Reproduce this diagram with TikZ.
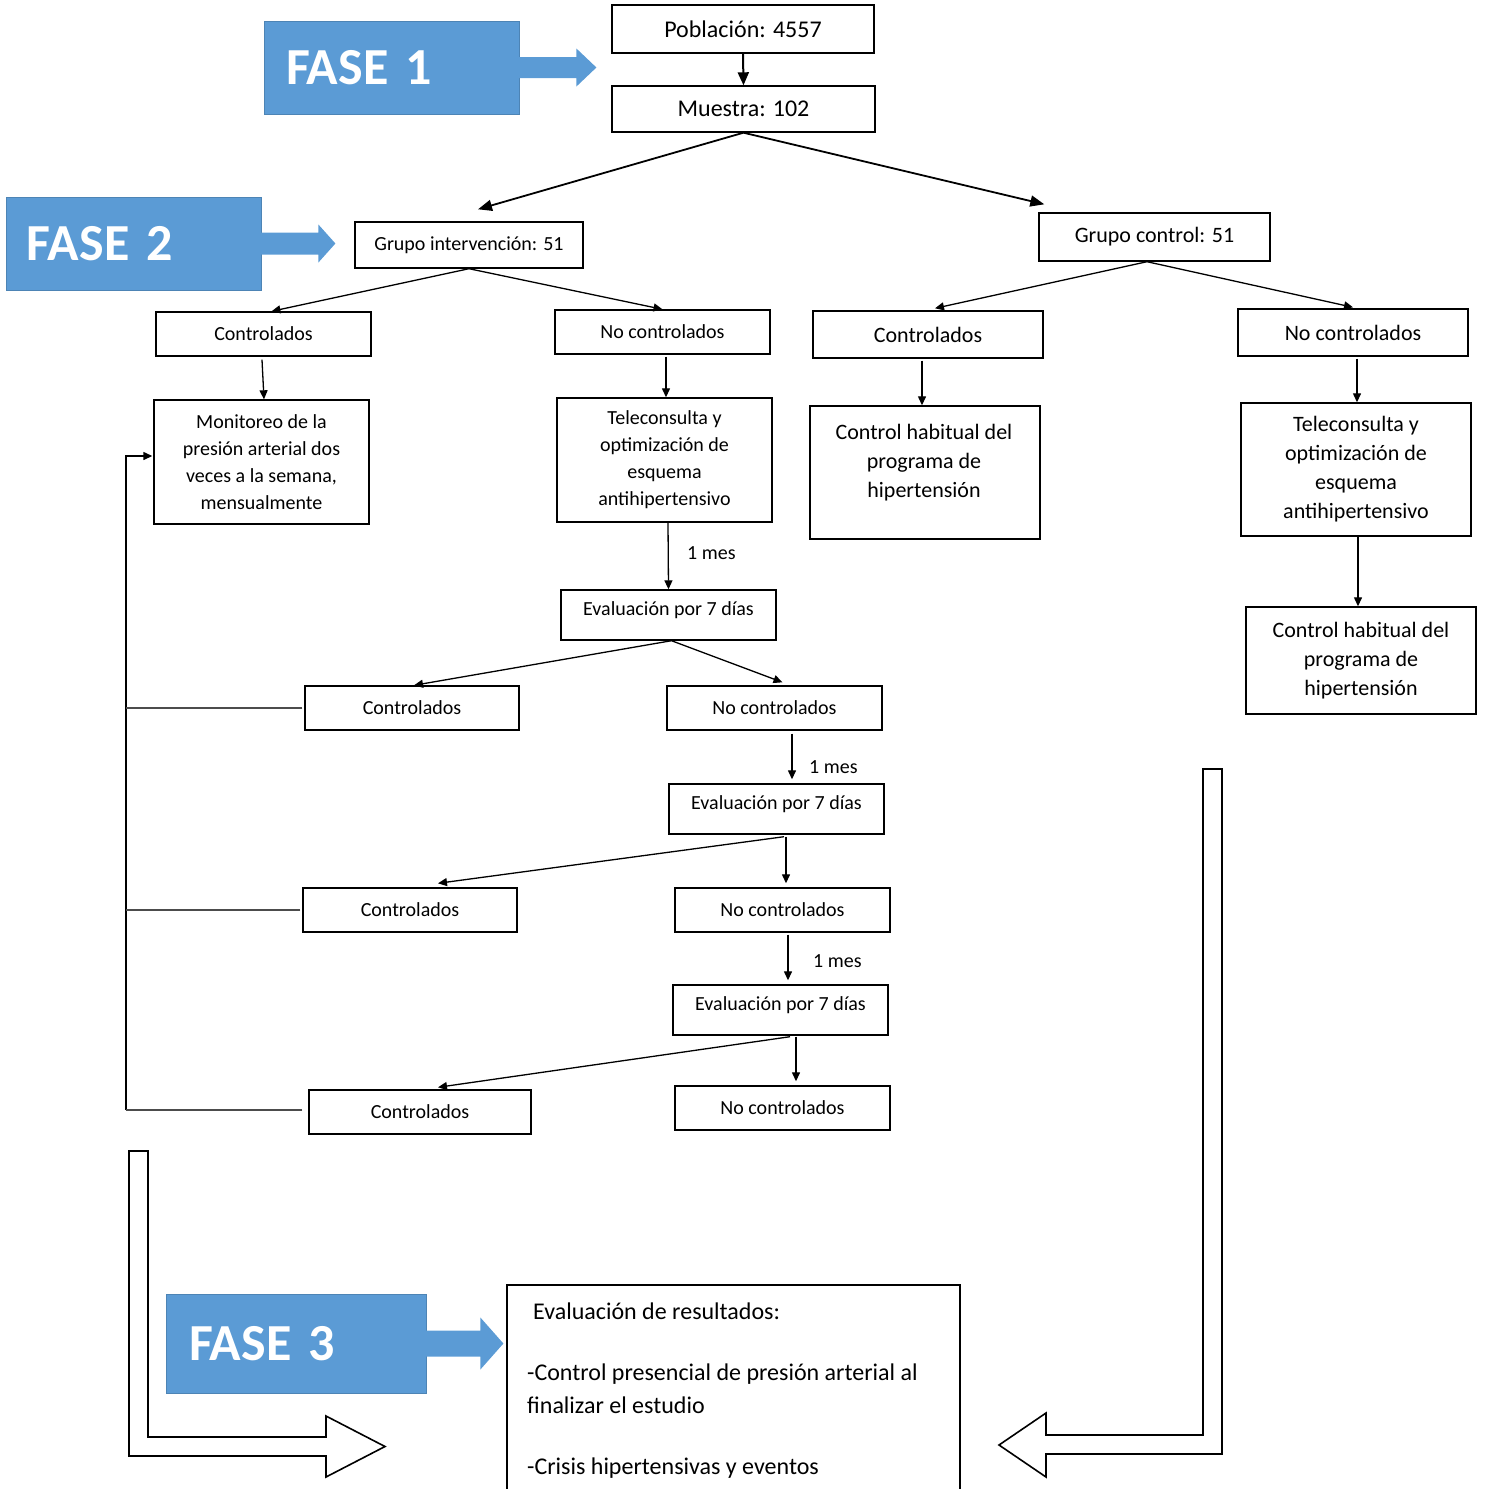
\documentclass[tikz,border=0pt]{standalone}
\usepackage{fontspec}
\setmainfont{Carlito}
\usetikzlibrary{arrows.meta,calc}
\definecolor{fasecol}{HTML}{5B9BD5}
\newcommand\fsBig{\fontsize{24pt}{29pt}\selectfont}
\newcommand\fsRight{\fontsize{22pt}{29pt}\selectfont}
\newcommand\fsLeft{\fontsize{20pt}{27pt}\selectfont}
\newcommand\fsFase{\bfseries\fontsize{52pt}{60pt}\selectfont}
\newcommand\fsRes{\fontsize{24pt}{33pt}\selectfont}
\newcommand\upText[1]{\raisebox{5pt}[\height][\depth]{#1}}
\begin{document}
\begin{tikzpicture}[x=1pt,y=-1pt,
 box/.style={draw, line width=1.4pt, inner sep=0pt, align=center},
 arr/.style={line width=1.3pt, -{Triangle[length=9pt,width=8pt]}},
 arrbig/.style={line width=1.8pt, -{Triangle[length=14pt,width=11pt]}},
 fbline/.style={line width=2.2pt, draw=black!70},
 fase/.style={fill=fasecol, draw=fasecol!85!black, line width=0.8pt, text=white, font=\fsFase, inner ysep=0pt, align=left},
 hollow/.style={draw, line width=1.6pt, fill=white, line join=miter},
 lbl/.style={font=\fsLeft, anchor=west, inner sep=0pt}]
\useasboundingbox (0,0) rectangle (1486,1489);

% ---------- FASE labels ----------
\node[fase, minimum width=255pt, minimum height=93pt, text width=211pt, inner xsep=22pt] (f1) at (391.5,67.5) {FASE 1};
\fill[fasecol] ($(f1.east)+(-1,-10.5)$) -- ($(f1.east)+(57,-10.5)$) -- ($(f1.east)+(57,-19)$) -- ($(f1.east)+(77,0)$) -- ($(f1.east)+(57,19)$) -- ($(f1.east)+(57,10.5)$) -- ($(f1.east)+(-1,10.5)$) -- cycle;

\node[fase, minimum width=255pt, minimum height=93pt, text width=213pt, inner xsep=21pt] (f2) at (133.5,243.5) {FASE 2};
\fill[fasecol] ($(f2.east)+(-1,-11)$) -- ($(f2.east)+(57,-11)$) -- ($(f2.east)+(57,-19)$) -- ($(f2.east)+(74,0)$) -- ($(f2.east)+(57,19)$) -- ($(f2.east)+(57,11)$) -- ($(f2.east)+(-1,11)$) -- cycle;

\node[fase, minimum width=260pt, minimum height=99pt, text width=214pt, inner xsep=23pt] (f3) at (296,1343.5) {FASE 3};
\fill[fasecol] ($(f3.east)+(-1,-13)$) -- ($(f3.east)+(54,-13)$) -- ($(f3.east)+(54,-26)$) -- ($(f3.east)+(77,0)$) -- ($(f3.east)+(54,26)$) -- ($(f3.east)+(54,13)$) -- ($(f3.east)+(-1,13)$) -- cycle;

% ---------- top ----------
\node[box, font=\fsBig, minimum width=262pt, minimum height=48pt] (pob) at (743,29) {Población: 4557};
\node[box, font=\fsBig, minimum width=263pt, minimum height=46pt] (mue) at (743.5,109) {Muestra: 102};
\draw[line width=2pt, -{Triangle[length=13pt,width=11pt]}] (pob.south) -- (mue.north);

\node[box, font=\fsLeft, minimum width=228pt, minimum height=46pt] (gi) at (469,245) {Grupo intervención: 51};
\node[box, font=\fsRight, minimum width=231pt, minimum height=48pt] (gc) at (1154.5,237) {Grupo control: 51};
\draw[arrbig] (mue.south) -- ([xshift=9pt,yshift=12pt]gi.north);
\draw[arrbig] (mue.south) -- ([xshift=6pt,yshift=8pt]gc.north west);

% ---------- intervention branch ----------
\node[box, font=\fsLeft, minimum width=215pt, minimum height=44pt] (c1) at (263.5,334) {Controlados};
\node[box, font=\fsLeft, minimum width=215pt, minimum height=44pt] (n1) at (662.5,332) {No controlados};
\draw[arr] (gi.south) -- ([xshift=8pt]c1.north);
\draw[arr] (gi.south) -- (n1.north);

\node[box, font=\fsLeft, minimum width=215pt, minimum height=124pt] (mon) at (261.5,462) {Monitoreo de la\\presión arterial dos\\veces a la semana,\\mensualmente};
\node[box, font=\fsLeft, minimum width=215pt, minimum height=124pt] (tel) at (664.5,460) {Teleconsulta y\\optimización de\\esquema\\antihipertensivo};
\draw[arr] ([xshift=-1.5pt,yshift=-3pt]c1.south) -- ([xshift=0.5pt]c1.south |- mon.north);
\draw[arr] ([xshift=3.5pt,yshift=-2pt]n1.south) -- ([xshift=3.5pt]n1.south |- tel.north);

\node[box, font=\fsLeft, minimum width=215pt, minimum height=50pt] (ev1) at (668.5,615) {\upText{Evaluación por 7 días}};
\draw[arr] ([xshift=3.5pt]tel.south) -- (ev1.north);
\node[lbl] (m1) at (687,553) {1 mes};

\node[box, font=\fsLeft, minimum width=214pt, minimum height=44pt] (c2) at (412,708) {Controlados};
\node[box, font=\fsLeft, minimum width=215pt, minimum height=44pt] (n2) at (774.5,708) {No controlados};
\draw[arr] ([xshift=3pt]ev1.south) -- ([xshift=2pt]c2.north);
\draw[arr] ([xshift=3pt]ev1.south) -- ([xshift=8pt,yshift=3pt]n2.north);

\node[box, font=\fsLeft, minimum width=215pt, minimum height=50pt] (ev2) at (776.5,809) {\upText{Evaluación por 7 días}};
\draw[arr] ([xshift=17.5pt,yshift=-3pt]n2.south) -- ([xshift=15.5pt,yshift=4pt]ev2.north);
\node[lbl] (m2) at (809,767) {1 mes};

\node[box, font=\fsLeft, minimum width=214pt, minimum height=44pt] (c3) at (410,910) {Controlados};
\node[box, font=\fsLeft, minimum width=215pt, minimum height=44pt] (n3) at (782.5,910) {No controlados};
\draw[arr] ([xshift=7.5pt,yshift=-2pt]ev2.south) -- ([xshift=28pt,yshift=4pt]c3.north);
\draw[arr] ([xshift=9.5pt,yshift=-2pt]ev2.south) -- ([xshift=3.5pt,yshift=4pt]n3.north);

\node[box, font=\fsLeft, minimum width=215pt, minimum height=50pt] (ev3) at (780.5,1010) {\upText{Evaluación por 7 días}};
\draw[arr] ([xshift=5.5pt,yshift=-2pt]n3.south) -- ([xshift=7.5pt,yshift=4pt]ev3.north);
\node[lbl] (m3) at (813,961) {1 mes};

\node[box, font=\fsLeft, minimum width=222pt, minimum height=44pt] (c4) at (420,1112) {Controlados};
\node[box, font=\fsLeft, minimum width=215pt, minimum height=44pt] (n4) at (782.5,1108) {No controlados};
\draw[arr] ([xshift=9.5pt,yshift=-1pt]ev3.south) -- ([xshift=18pt,yshift=2pt]c4.north);
\draw[arr] ([xshift=15.5pt,yshift=-1pt]ev3.south) -- ([xshift=13.5pt,yshift=4pt]n4.north);

% ---------- feedback loop ----------
\coordinate (fbx) at (126,0);
\draw[line width=1.4pt, -{Triangle[length=9pt,width=8pt]}] ([yshift=2pt]fbx |- c4.west) -- ([yshift=6pt]fbx |- mon.west) -- ([yshift=6pt,xshift=-1pt]mon.west);
\draw[fbline] ([xshift=-2pt]c2.west) -- (c2.west -| fbx);
\draw[fbline] ([xshift=-2pt]c3.west) -- (c3.west -| fbx);
\draw[fbline] ([xshift=-6pt,yshift=2pt]c4.west) -- ([yshift=2pt]c4.west -| fbx);

% ---------- control branch ----------
\node[box, font=\fsRight, minimum width=230pt, minimum height=47pt] (cr) at (928,334.5) {Controlados};
\node[box, font=\fsRight, minimum width=230pt, minimum height=47pt] (nr) at (1353,332.5) {No controlados};
\draw[arr] ([xshift=-7.5pt]gc.south) -- ([xshift=7pt,yshift=2pt]cr.north);
\draw[arr] ([xshift=-7.5pt]gc.south) -- ([yshift=1pt]nr.north);

\node[box, minimum width=230pt, minimum height=133pt] (chr) at (925,472.5) {};
\node[font=\fsRight, align=center, inner sep=0pt] (chrt) at (924,463) {Control habitual del\\programa de\\hipertensión};
\draw[arr] ([xshift=-6pt,yshift=-2pt]cr.south) -- ([xshift=-3pt]chr.north);

\node[box, font=\fsRight, minimum width=230pt, minimum height=133pt] (tr) at (1356,469.5) {Teleconsulta y\\optimización de\\esquema\\antihipertensivo};
\draw[arr] ([xshift=4pt,yshift=-2pt]nr.south) -- ([xshift=1pt]tr.north);

\node[box, font=\fsRight, minimum width=230pt, minimum height=107pt] (chr2) at (1361,660.5) {Control habitual del\\programa de\\hipertensión};
\draw[arr] ([xshift=2pt]tr.south) -- ([xshift=-3pt]chr2.north);

% ---------- big hollow arrows ----------
\draw[hollow] (129,1151) -- (148,1151) -- (148,1437) -- (326,1437) -- (326,1416) -- (385,1446.5) -- (326,1477) -- (326,1456) -- (129,1456) -- cycle;
\draw[hollow] (1203,769) -- (1222,769) -- (1222,1454) -- (1046,1454) -- (1046,1477) -- (999,1445) -- (1046,1413) -- (1046,1435) -- (1203,1435) -- cycle;

% ---------- results ----------
\draw[line width=1.4pt] (507,1492) -- (507,1285) -- (960,1285) -- (960,1492);
\node[font=\fsRes, align=left, anchor=north west, inner sep=0pt] (res) at (527,1303) {\hspace*{6pt}Evaluación de resultados:\\[28pt]-Control presencial de presión arterial al\\finalizar el estudio\\[28pt]-Crisis hipertensivas y eventos};
\end{tikzpicture}
\end{document}
